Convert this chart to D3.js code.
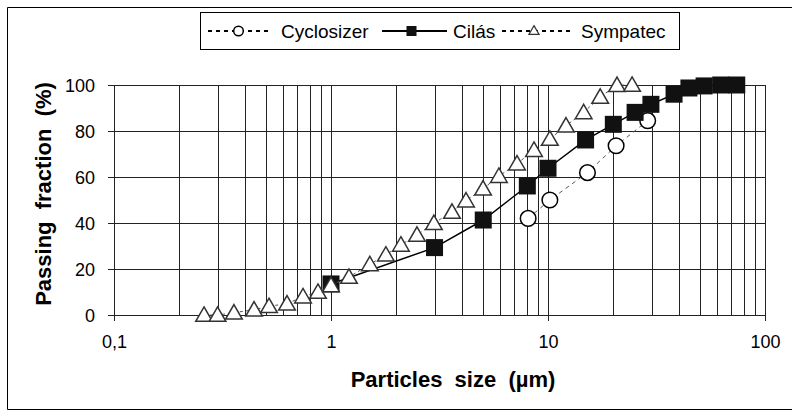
<!DOCTYPE html>
<html><head><meta charset="utf-8">
<script src="https://cdn.jsdelivr.net/npm/d3@7"></script>
<style>body{margin:0;background:#fff}svg{display:block;font-family:"Liberation Sans",Arial,sans-serif}</style>
</head><body><svg id="c" width="792" height="419"></svg>
<script>
// Data
const seriesNames = ["Cyclosizer", "Cilás", "Sympatec"];
const cycloSize = [8.1, 10.2, 15.2, 20.6, 28.8];
const cycloPass = [42, 50, 61.9, 73.6, 84.5];
const cilasSize = [1.0, 3.0, 5.03, 8.03, 10.0, 14.9, 20.0, 25.2, 29.8, 38.1, 44.6, 52.4, 62.5, 74.1];
const cilasPass = [13.5, 29.3, 41.3, 56.1, 63.8, 76.1, 82.9, 88.1, 91.6, 96, 98.7, 99.6, 100, 100];
const sympSize = [0.26, 0.30, 0.357, 0.442, 0.518, 0.627, 0.743, 0.871, 1.0, 1.21, 1.51, 1.79, 2.10, 2.49, 2.98, 3.61, 4.19, 5.02, 5.94, 7.20, 8.62, 10.2, 12.1, 14.6, 17.4, 20.8, 24.4];
const sympPass = [0, 0, 1, 2.3, 3.8, 4.9, 8, 10, 12.9, 16.5, 22, 26.2, 30.5, 34.8, 39.9, 44.8, 49.7, 54.9, 60.4, 65.8, 71.7, 76.5, 82.3, 88.1, 94.8, 99.9, 100];
const xTickValues = [0.1, 1, 10, 100];
const xTickLabels = ["0,1", "1", "10", "100"];
const yTickValues = [0, 20, 40, 60, 80, 100];
const xTitle = "Particles  size  (µm)";
const yTitle = "Passing  fraction  (%)";

const svg = d3.select("#c");
const x = d3.scaleLog().domain([0.1, 100]).range([114, 765]);
const y = d3.scaleLinear().domain([0, 100]).range([315, 85]);

// outer border
svg.append("path").attr("d", "M800,7.5H7.5V409.5H800").attr("fill", "none").attr("stroke", "#000").attr("stroke-width", 1);

// gridlines
const minor = [];
[0.1, 1, 10].forEach(d => { for (let k = 1; k <= 9; k++) minor.push(d * k); });
minor.push(100);
const g = svg.append("g").attr("shape-rendering", "crispEdges");
g.selectAll(".vg").data(minor).join("line")
  .attr("x1", d => Math.round(x(d)) + 0.5).attr("x2", d => Math.round(x(d)) + 0.5)
  .attr("y1", y(100)).attr("y2", y(0)).attr("stroke", "#222").attr("stroke-width", 1);
g.selectAll(".hg").data(yTickValues).join("line")
  .attr("x1", x(0.1)).attr("x2", x(100))
  .attr("y1", d => Math.round(y(d)) + 0.5).attr("y2", d => Math.round(y(d)) + 0.5)
  .attr("stroke", "#222").attr("stroke-width", 1);

// axes
const xAxis = d3.axisBottom(x).tickValues(xTickValues).tickFormat((d, i) => xTickLabels[i]).tickSize(6).tickPadding(14);
const xa = svg.append("g").attr("transform", `translate(0,${y(0)})`).call(xAxis);
const yAxis = d3.axisLeft(y).tickValues(yTickValues).tickSize(6).tickPadding(13);
const ya = svg.append("g").attr("transform", `translate(${x(0.1)},0)`).call(yAxis);
[xa, ya].forEach(a => {
  a.select(".domain").attr("stroke", "#222");
  a.selectAll(".tick line").attr("stroke", "#222");
  a.selectAll("text").attr("font-family", "Liberation Sans, Arial, sans-serif").attr("font-size", 18).attr("fill", "#000");
});
ya.selectAll("text").attr("dy", "0.35em");

// titles
svg.append("text").attr("x", 453).attr("y", 387).attr("text-anchor", "middle")
  .attr("font-size", 22).attr("font-weight", "bold").style("white-space", "pre").text(xTitle);
svg.append("text").attr("transform", "translate(51,194) rotate(-90)").attr("text-anchor", "middle")
  .attr("font-size", 22).attr("font-weight", "bold").style("white-space", "pre").text(yTitle);

// series
const line = d3.line().x(d => x(d[0])).y(d => y(d[1]));
const cyc = cycloSize.map((d, i) => [d, cycloPass[i]]);
const cil = cilasSize.map((d, i) => [d, cilasPass[i]]);
const sym = sympSize.map((d, i) => [d, sympPass[i]]);

svg.append("path").datum(cyc).attr("d", line).attr("fill", "none").attr("stroke", "#555").attr("stroke-width", 1).attr("stroke-dasharray", "4,4");
svg.selectAll(".cyc").data(cyc).join("circle").attr("cx", d => x(d[0])).attr("cy", d => y(d[1])).attr("r", 7.8)
  .attr("fill", "#fff").attr("stroke", "#000").attr("stroke-width", 1.5);

svg.append("path").datum(cil).attr("d", line).attr("fill", "none").attr("stroke", "#000").attr("stroke-width", 1.5);
svg.selectAll(".cil").data(cil).join("rect").attr("x", d => x(d[0]) - 8.5).attr("y", d => y(d[1]) - 8.5)
  .attr("width", 17).attr("height", 17).attr("fill", "#111");

svg.append("path").datum(sym).attr("d", line).attr("fill", "none").attr("stroke", "#555").attr("stroke-width", 1).attr("stroke-dasharray", "3,3");
const tri = d3.symbol().type(d3.symbolTriangle).size(120);
svg.selectAll(".sym").data(sym).join("path").attr("d", tri)
  .attr("transform", d => `translate(${x(d[0])},${y(d[1]) + 1.5})`)
  .attr("fill", "#fff").attr("stroke", "#333").attr("stroke-width", 1.5);

// legend
const lg = svg.append("g");
lg.append("rect").attr("x", 200.5).attr("y", 12.5).attr("width", 479).attr("height", 37).attr("fill", "#fff").attr("stroke", "#000");
const ly = 31;
// Cyclosizer
lg.append("line").attr("x1", 208).attr("x2", 270).attr("y1", ly).attr("y2", ly).attr("stroke", "#000").attr("stroke-width", 2).attr("stroke-dasharray", "4,4");
lg.append("circle").attr("cx", 238.5).attr("cy", ly).attr("r", 4.8).attr("fill", "#fff").attr("stroke", "#000").attr("stroke-width", 1.5);
lg.append("text").attr("x", 281).attr("y", ly + 7).attr("font-size", 19).text(seriesNames[0]);
// Cilás
lg.append("line").attr("x1", 382).attr("x2", 447).attr("y1", ly).attr("y2", ly).attr("stroke", "#000").attr("stroke-width", 2);
lg.append("rect").attr("x", 406.5).attr("y", ly - 5).attr("width", 10).attr("height", 10).attr("fill", "#111");
lg.append("text").attr("x", 453).attr("y", ly + 7).attr("font-size", 19).text(seriesNames[1]);
// Sympatec
lg.append("line").attr("x1", 502).attr("x2", 570).attr("y1", ly).attr("y2", ly).attr("stroke", "#000").attr("stroke-width", 2).attr("stroke-dasharray", "4,4");
lg.append("path").attr("d", d3.symbol().type(d3.symbolTriangle).size(45)).attr("transform", `translate(534,${ly + 0.5})`)
  .attr("fill", "#fff").attr("stroke", "#333").attr("stroke-width", 1.2);
lg.append("text").attr("x", 581).attr("y", ly + 7).attr("font-size", 19).text(seriesNames[2]);
</script></body></html>
